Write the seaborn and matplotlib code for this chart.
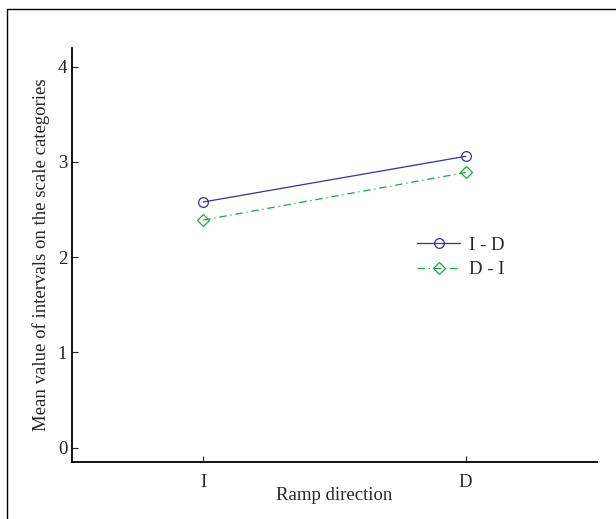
import numpy as np
import pandas as pd
import matplotlib.pyplot as plt
import seaborn as sns
from matplotlib.lines import Line2D

# data
directions = ["I", "D"]
id_values = [2.58, 3.06]
di_values = [2.39, 2.89]
series_names = ["I - D", "D - I"]

sns.set_style("white")
plt.rcParams['font.family'] = ['Liberation Serif', 'DejaVu Serif']

fig = plt.figure(figsize=(6.16, 5.19), dpi=100)
ax = fig.add_axes([0.117, 0.110, 0.852, 0.798])

sns.lineplot(x=directions, y=id_values, color="#33339a", marker="o",
             linestyle="-", linewidth=0.9, markersize=7, markerfacecolor="none",
             markeredgecolor="#33339a", markeredgewidth=0.9, label=series_names[0],
             sort=False, ax=ax)
sns.lineplot(x=directions, y=di_values, color="#1fa83a", marker="D",
             linestyle=(0, (6, 3, 1, 3)), linewidth=0.9, markersize=6,
             markerfacecolor="none", markeredgecolor="#1fa83a", markeredgewidth=0.9,
             label=series_names[1], sort=False, ax=ax)

ax.set_xlim(-0.5, 1.5)
ax.set_ylim(-0.15, 4.2)
ax.set_yticks([0, 1, 2, 3, 4])
ax.set_xlabel("Ramp direction", fontsize=13.5, labelpad=-3)
ax.set_ylabel("Mean value of intervals on the scale categories", fontsize=13.5, labelpad=6)
ax.tick_params(direction="in", length=4, width=0.8, labelsize=13.5, left=True, bottom=True)
ax.tick_params(axis="x", pad=9)

for side in ["top", "right"]:
    ax.spines[side].set_visible(False)
for side in ["left", "bottom"]:
    ax.spines[side].set_linewidth(1.3)
    ax.spines[side].set_color("black")

ax.legend(loc="upper left", bbox_to_anchor=(0.625, 0.585), frameon=False,
          fontsize=13.5, handlelength=2.3, handletextpad=0.5, labelspacing=0.4)

# outer frame (left and top edges)
fig.add_artist(Line2D([0.011, 0.011], [0.0, 0.983], color="black", lw=1.0,
                      transform=fig.transFigure))
fig.add_artist(Line2D([0.011, 1.0], [0.983, 0.983], color="black", lw=1.0,
                      transform=fig.transFigure))

plt.savefig("out.png", dpi=100)
